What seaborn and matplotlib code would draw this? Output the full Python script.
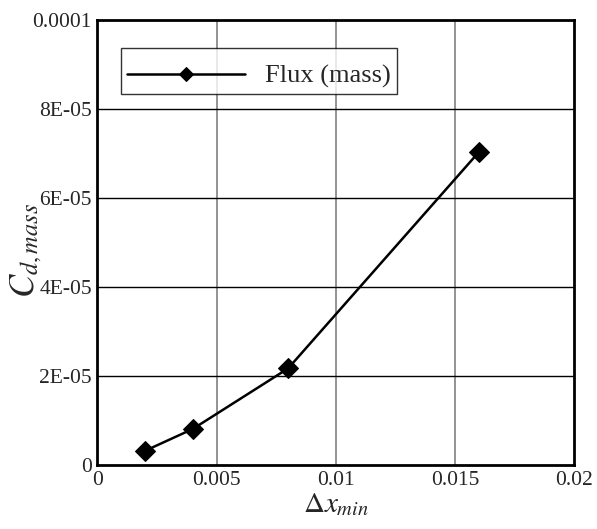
import matplotlib
matplotlib.use("Agg")
import matplotlib.pyplot as plt
import seaborn as sns
import pandas as pd
from matplotlib.ticker import MultipleLocator

# Data
dx_min = [0.002, 0.004, 0.008, 0.016]
cd_mass = [3.2e-6, 8.1e-6, 2.17e-5, 7.03e-5]
series_name = "Flux (mass)"

x_ticks = [0, 0.005, 0.01, 0.015, 0.02]
x_tick_labels = ["0", "0.005", "0.01", "0.015", "0.02"]
y_ticks = [0, 2e-5, 4e-5, 6e-5, 8e-5, 1e-4]
y_tick_labels = ["0", "2E-05", "4E-05", "6E-05", "8E-05", "0.0001"]

sns.set_style("white")
plt.rcParams['font.family'] = ['Liberation Serif', 'DejaVu Serif']
plt.rcParams['mathtext.fontset'] = 'stix'

df = pd.DataFrame({'dx': dx_min, 'cd': cd_mass, 'series': series_name})

fig = plt.figure(figsize=(5.97, 5.29), dpi=100)
ax = fig.add_axes([0.1633, 0.121, 0.7982, 0.841])

# grid first so data sits on top
for xv in x_ticks[1:-1]:
    ax.axvline(xv, color='#808080', lw=1.2, zorder=1)
for yv in y_ticks[1:-1]:
    ax.axhline(yv, color='black', lw=1.0, zorder=1)

sns.lineplot(data=df, x='dx', y='cd', hue='series', palette=['black'],
             marker='D', markersize=10, linewidth=1.8, markeredgecolor='black',
             ax=ax, zorder=3)

ax.set_xlim(0, 0.02)
ax.set_ylim(0, 1e-4)
ax.set_xticks(x_ticks)
ax.set_xticklabels(x_tick_labels)
ax.set_yticks(y_ticks)
ax.set_yticklabels(y_tick_labels)
ax.xaxis.set_minor_locator(MultipleLocator(0.001))
ax.yaxis.set_minor_locator(MultipleLocator(5e-6))
ax.tick_params(which='major', direction='in', length=10, width=2, labelsize=15.5,
               top=False, right=False, pad=4)
ax.tick_params(which='minor', direction='in', length=5, width=1.2,
               top=False, right=False)

for sp in ax.spines.values():
    sp.set_linewidth(2)
    sp.set_color('black')

ax.set_xlabel(r'$\Delta x_{min}$', fontsize=21, labelpad=1)
ax.set_ylabel(r'$C_{d,mass}$', fontsize=25)
ax.yaxis.set_label_coords(-0.112, 0.483)

# blank tiny title pushes the entry down like in the original box
leg = ax.legend(loc='upper left', bbox_to_anchor=(0.049, 0.937), frameon=True,
                fancybox=False, edgecolor='black', fontsize=19, handlelength=4.5,
                markerscale=0.75, borderpad=0.22, handletextpad=0.75,
                labelspacing=0.1, title=' ', title_fontsize=6,
                borderaxespad=0)
leg.get_frame().set_linewidth(1.0)

fig.savefig('out.png', dpi=100)
